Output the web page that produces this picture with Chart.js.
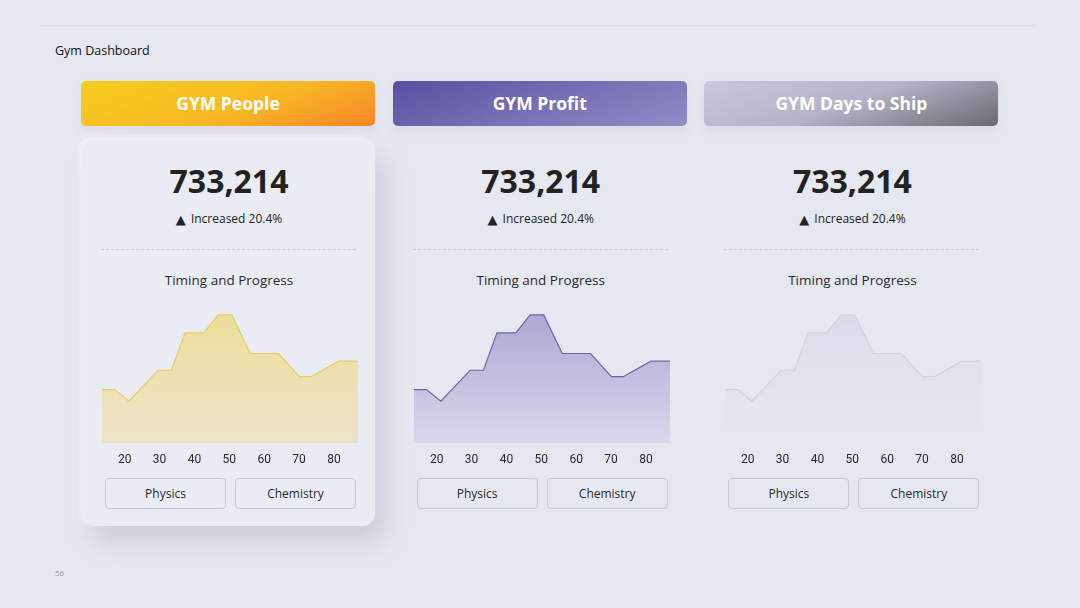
<!DOCTYPE html>
<html>
<head>
<meta charset="utf-8">
<title>Gym Dashboard</title>
<script src="https://cdn.jsdelivr.net/npm/chart.js@4.4.1/dist/chart.umd.min.js"></script>
<style>
    body {
        margin: 0;
        width: 1080px;
        height: 608px;
        background: #e6e8f1;
        font-family: "Open Sans", "Noto Sans", sans-serif;
        position: relative;
        overflow: hidden;
    }
    .topline {
        position: absolute; left: 40px; top: 25px; width: 995px; height: 1px;
        background: #dcdee8;
    }
    .title {
        position: absolute; left: 55px; top: 42px; font-size: 12.5px; color: #111;
    }
    .pagenum {
        position: absolute; left: 55px; top: 567px; font-size: 8px; color: #9a9ca6;
    }
    .header {
        position: absolute; top: 81px; width: 294px; height: 45px; border-radius: 5px;
        color: #fff; font-weight: 700; font-size: 17.5px; line-height: 45px; text-align: center;
        box-shadow: 0 4px 10px rgba(120, 120, 150, 0.12);
    }
    .card {
        position: absolute; left: 82px; top: 140px; width: 293px; height: 386px;
        border-radius: 12px; background: #eaecf4;
        box-shadow: 10px 16px 24px rgba(110, 115, 140, 0.22), -2px -2px 6px rgba(255, 255, 255, 0.7);
    }
    .col { position: absolute; top: 0; width: 294px; height: 608px; }
    .big {
        position: absolute; top: 158px; width: 100%; text-align: center;
        font-size: 32px; font-weight: 700; color: #222; line-height: 46px;
    }
    .sub {
        position: absolute; top: 210px; width: 100%; text-align: center;
        font-size: 12px; color: #222; line-height: 18px;
    }
    .sub .tri { font-size: 13px; font-family: "DejaVu Sans", sans-serif; vertical-align: -1px; margin-right: 2px; }
    .dash {
        position: absolute; left: 19px; top: 249px; width: 255px; height: 0;
        border-top: 1px dashed #c9cbd6;
    }
    .caption {
        position: absolute; top: 269px; width: 100%; text-align: center;
        font-size: 13.5px; color: #2a2a2a; line-height: 22px;
    }
    .btn {
        position: absolute; top: 478px; width: 119px; height: 29px; border: 1px solid #c6c8d2;
        border-radius: 4px; text-align: center; line-height: 29px; font-size: 12px; color: #2a2a2a;
        box-sizing: content-box;
    }
    canvas { position: absolute; }
</style>
</head>
<body>
<div class="topline"></div>
<div class="title">Gym Dashboard</div>
<div class="card"></div>
<div id="cols"></div>
<div class="pagenum">56</div>

<script>
// card data
const cardTitles = ['GYM People', 'GYM Profit', 'GYM Days to Ship'];
const kpiValues = ['733,214', '733,214', '733,214'];
const kpiChange = ['Increased 20.4%', 'Increased 20.4%', 'Increased 20.4%'];
const buttonLabels = ['Physics', 'Chemistry'];

// line data (same progress curve on all three cards)
const progressX = [13.5, 17.1, 21.2, 29.6, 33.4, 37.3, 42.7, 46.8, 50.7, 56, 64.1, 70.1, 73.5, 81.4, 86.9];
const progressY = [42, 42, 33, 57, 57, 86, 86, 100, 100, 70, 70, 52, 52, 64, 64];
const xTicks = [20, 30, 40, 50, 60, 70, 80];

const headerBg = [
    'linear-gradient(160deg, #f6cd1d 0%, #f7b923 55%, #f7852a 100%)',
    'linear-gradient(160deg, #5850a0 0%, #7470b4 50%, #908dc6 100%)',
    'linear-gradient(160deg, #cbc8de 0%, #b4b1c8 50%, #6a696f 100%)'
];
const lineColors = ['#e9cd5c', '#6a66a6', '#d2d1e2'];
const fillTop = ['rgba(238, 215, 120, 0.75)', 'rgba(160, 156, 204, 0.9)', 'rgba(214, 212, 230, 0.8)'];
const fillBottom = ['rgba(236, 226, 190, 0.8)', 'rgba(214, 214, 234, 0.9)', 'rgba(230, 231, 242, 0.4)'];

const colStep = 311.7;
const cols = document.getElementById('cols');

function makeColumn(i) {
    const left = 81 + i * colStep;
    const h = document.createElement('div');
    h.className = 'header';
    h.style.left = left + 'px';
    h.style.background = headerBg[i];
    h.textContent = cardTitles[i];
    cols.appendChild(h);

    const col = document.createElement('div');
    col.className = 'col';
    col.style.left = (left + 1) + 'px';
    col.innerHTML =
        '<div class="big">' + kpiValues[i] + '</div>' +
        '<div class="sub"><span class="tri">&#9650;</span> ' + kpiChange[i] + '</div>' +
        '<div class="dash"></div>' +
        '<div class="caption">Timing and Progress</div>' +
        '<div class="btn" style="left:23px">' + buttonLabels[0] + '</div>' +
        '<div class="btn" style="left:153px">' + buttonLabels[1] + '</div>';
    cols.appendChild(col);

    const canvas = document.createElement('canvas');
    canvas.style.left = (102 + i * colStep) + 'px';
    canvas.style.top = '302px';
    canvas.style.width = '256px';
    canvas.style.height = '166px';
    document.body.appendChild(canvas);
    return canvas;
}

function renderChart(i) {
    const ctx = makeColumn(i);
    new Chart(ctx, {
        type: 'line',
        data: {
            datasets: [{
                data: progressX.map((x, k) => ({ x: x, y: progressY[k] })),
                borderColor: lineColors[i],
                borderWidth: 1.2,
                pointRadius: 0,
                tension: 0,
                fill: 'origin',
                backgroundColor: (c) => {
                    const area = c.chart.chartArea;
                    if (!area) return fillTop[i];
                    const g = c.chart.ctx.createLinearGradient(0, area.top, 0, area.bottom);
                    g.addColorStop(0, fillTop[i]);
                    g.addColorStop(1, fillBottom[i]);
                    return g;
                }
            }]
        },
        options: {
            responsive: false,
            animation: false,
            layout: { padding: 0 },
            plugins: { legend: { display: false }, tooltip: { enabled: false } },
            scales: {
                x: {
                    type: 'linear',
                    min: 13.5,
                    max: 86.9,
                    grid: { display: false },
                    border: { display: false },
                    afterBuildTicks: (axis) => { axis.ticks = xTicks.map(v => ({ value: v })); },
                    ticks: { padding: 1, color: '#2a2a2a', font: { size: 12, family: 'Roboto' }, maxRotation: 0 }
                },
                y: {
                    display: false,
                    min: 0,
                    max: 110
                }
            }
        }
    });
}

cardTitles.forEach((t, i) => renderChart(i));
</script>
</body>
</html>
